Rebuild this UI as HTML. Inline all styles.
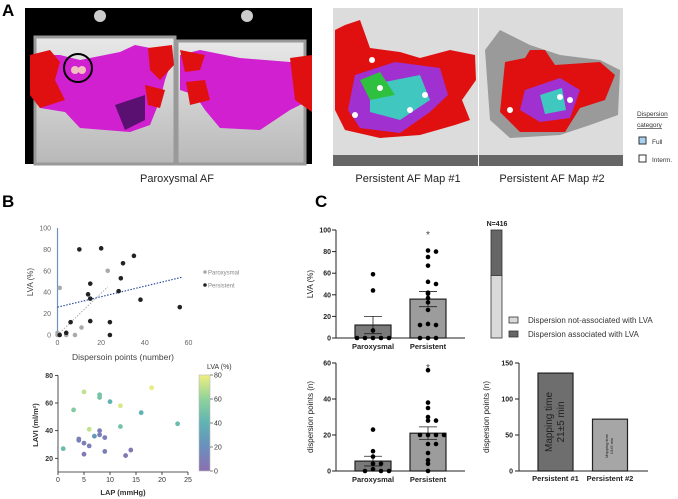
<!DOCTYPE html>
<html><head><meta charset="utf-8"><style>
body{margin:0;background:#fff}
svg{display:block;font-family:"Liberation Sans",sans-serif}
</style></head><body>
<svg id="fig" width="678" height="499" viewBox="0 0 678 499" xmlns="http://www.w3.org/2000/svg">
<defs>
<linearGradient id="xr" x1="0" y1="0" x2="0" y2="1"><stop offset="0" stop-color="#e8e8e8"/><stop offset="1" stop-color="#b8b8b8"/></linearGradient>
<linearGradient id="vir" x1="0" y1="1" x2="0" y2="0"><stop offset="0" stop-color="#8d6fb0"/><stop offset="0.25" stop-color="#6a8fbd"/><stop offset="0.5" stop-color="#5fb3b3"/><stop offset="0.75" stop-color="#8fd39a"/><stop offset="1" stop-color="#f0ee80"/></linearGradient>
</defs>
<text x="2" y="16" font-size="17" font-weight="bold">A</text>
<g>
<rect x="25" y="8" width="287" height="156" fill="#000"/>
<circle cx="100" cy="16" r="6" fill="#ccc"/><circle cx="247" cy="16" r="6" fill="#ccc"/>
<rect x="35" y="37" width="140" height="127" fill="url(#xr)" stroke="#999" stroke-width="3"/>
<rect x="177" y="41" width="128" height="123" fill="url(#xr)" stroke="#999" stroke-width="3"/>
<path d="M30 55 L60 55 L80 60 L120 52 L135 45 L160 50 L172 60 L165 80 L160 100 L150 125 L130 132 L80 128 L65 112 L40 108 L30 95 Z" fill="#d020d0"/>
<path d="M30 55 L50 50 L60 62 L55 80 L65 100 L40 108 L30 95 Z" fill="#e01010"/>
<path d="M148 48 L172 45 L174 65 L160 80 L150 70 Z" fill="#e01010"/>
<path d="M145 85 L165 90 L160 108 L148 105 Z" fill="#e01010"/>
<path d="M115 105 L145 95 L145 120 L125 130 Z" fill="#5a1070"/>
<circle cx="78" cy="68" r="14" fill="none" stroke="#000" stroke-width="2"/>
<circle cx="75" cy="70" r="4" fill="#f0c0c0"/><circle cx="82" cy="70" r="4" fill="#f0c0c0"/>
<path d="M180 55 L200 50 L240 58 L290 62 L310 60 L310 100 L290 110 L260 130 L220 128 L205 110 L195 95 L180 90 Z" fill="#d020d0"/>
<path d="M180 50 L205 55 L200 70 L185 72 Z" fill="#e01010"/>
<path d="M186 82 L205 80 L210 100 L190 105 Z" fill="#e01010"/>
<path d="M290 58 L312 55 L312 112 L295 100 Z" fill="#e01010"/>
</g>
<text x="177" y="182" font-size="11" text-anchor="middle" fill="#222">Paroxysmal AF</text>
<g>
<rect x="333" y="8" width="145" height="158" fill="#dcdcdc"/>
<path d="M335 30 L345 25 L360 20 L370 48 L400 52 L420 58 L450 50 L475 55 L476 80 L462 100 L470 120 L455 125 L420 135 L380 138 L345 130 L335 110 Z" fill="#e01010"/>
<path d="M355 75 L395 62 L440 68 L448 95 L430 112 L400 133 L360 128 L348 110 Z" fill="#a030d0"/>
<path d="M370 85 L420 75 L430 100 L400 120 L370 112 Z" fill="#40c8c0"/>
<path d="M360 80 L380 72 L395 95 L370 100 Z" fill="#30c040"/>
<circle cx="372" cy="60" r="3" fill="#fff"/><circle cx="380" cy="88" r="3" fill="#fff"/><circle cx="410" cy="110" r="3" fill="#fff"/><circle cx="425" cy="95" r="3" fill="#fff"/><circle cx="355" cy="115" r="3" fill="#fff"/>
<rect x="333" y="155" width="145" height="11" fill="#666"/>
</g>
<g>
<rect x="479" y="8" width="144" height="158" fill="#dcdcdc"/>
<path d="M485 50 L500 30 L530 45 L560 55 L600 60 L620 70 L618 115 L590 125 L560 135 L510 138 L490 120 Z" fill="#9a9a9a"/>
<path d="M505 62 L525 58 L530 50 L545 50 L555 65 L600 62 L615 75 L605 100 L580 108 L565 132 L520 132 L500 112 Z" fill="#e01010"/>
<path d="M525 90 L560 78 L580 90 L570 118 L540 122 L520 110 Z" fill="#a030d0"/>
<path d="M540 95 L562 88 L566 110 L545 114 Z" fill="#40c8c0"/>
<circle cx="560" cy="97" r="3" fill="#fff"/><circle cx="570" cy="100" r="3" fill="#fff"/><circle cx="510" cy="110" r="3" fill="#fff"/>
<rect x="479" y="155" width="144" height="11" fill="#666"/>
</g>
<text x="408" y="182" font-size="11" text-anchor="middle" fill="#222">Persistent AF Map #1</text>
<text x="552" y="182" font-size="11" text-anchor="middle" fill="#222">Persistent AF Map #2</text>
<g>
<text x="637" y="116" font-size="6.5" fill="#333" text-decoration="underline">Dispersion</text>
<text x="637" y="127" font-size="6.5" fill="#333" text-decoration="underline">category</text>
<rect x="639" y="137" width="7" height="7" fill="#a8d0f0" stroke="#333"/><text x="652" y="144" font-size="6.5" fill="#333">Full</text>
<rect x="639" y="155" width="7" height="7" fill="#fff" stroke="#333"/><text x="652" y="162" font-size="6.5" fill="#333">Interm.</text>
</g>
<text x="2" y="207" font-size="17" font-weight="bold">B</text>
<text x="315" y="207" font-size="17" font-weight="bold">C</text>
<g id="charts"></g>
</svg>
<script>
const persX=[10,20,35,30,29,15,14,28,15,38,56,15,24,6,4,1,24];
const persY=[80,81,74,67,53,48,38,41,34,33,26,13,12,12,2,0,0];
const paroX=[1,23,11,8,4,0,0];
const paroY=[44,60,7,0,0,2,0];
const bTicksX=[0,20,40,60];
const bTicksY=[0,20,40,60,80,100];
const lap=[5,8,8,18,10,12,3,16,23,12,6,8,8,7,9,4,4,5,6,1,9,14,5,13];
const lavi=[68,66,64,71,61,58,55,53,45,43,41,40,37,36,35,34,33,31,29,27,25,26,23,22];
const lvaC=[70,50,50,78,40,75,55,40,45,50,70,10,10,25,10,10,10,10,10,45,10,5,5,5];
const lapTicks=[0,5,10,15,20,25];
const laviTicks=[20,40,60,80];
const cbTicks=[0,20,40,60,80];
const groups=["Paroxysmal","Persistent"];
const lvaMean=[12,36];
const lvaSem=[8,7];
const lvaParoDots=[59,44,7,0,0,0,0,0];
const lvaPersDots=[81,80,75,67,52,50,42,41,37,33,26,13,12,12,0,0,0];
const dispMean=[5.5,21];
const dispSem=[2.7,3.5];
const dispParoDots=[23,11,8,4,4,1,0,0,0];
const dispPersDots=[56,38,35,30,28,28,20,20,20,20,15,15,10,6,4,0];
const mapLabels=["Persistent #1","Persistent #2"];
const mapValues=[136,72];
const stackVals=[58,42];
const NS="http://www.w3.org/2000/svg";
const root=document.getElementById('charts');
function mk(tag,attrs,parent,txt){const e=document.createElementNS(NS,tag);for(const k in attrs)e.setAttribute(k,attrs[k]);if(txt!==undefined)e.textContent=txt;(parent||root).appendChild(e);return e;}
function viridis(v){const t=Math.max(0,Math.min(1,v/80));const st=[[141,111,176],[106,143,189],[95,179,179],[143,211,154],[240,238,128]];const f=t*4,i=Math.min(3,Math.floor(f)),r=f-i;const c=st[i].map((a,k)=>Math.round(a+(st[i+1][k]-a)*r));return `rgb(${c})`;}

const bx=v=>57.5+v*131/60, by=v=>335-v*1.07;
let g=mk('g',{});


mk('line',{x1:57.5,y1:by(100),x2:57.5,y2:by(0),stroke:'#7090c0','stroke-width':1.2},g);
bTicksY.forEach(t=>{const e=mk('text',{x:51,y:by(t)+2.5,'font-size':7,'text-anchor':'end',fill:'#666'},g,t);});
bTicksX.forEach(t=>{const e=mk('text',{x:bx(t),y:345,'font-size':7,'text-anchor':'middle',fill:'#666'},g,t);});
mk('line',{x1:bx(0),y1:by(26),x2:bx(57),y2:by(54),stroke:'#3050a0','stroke-width':1.2,'stroke-dasharray':'1.5,1.5'},g);
mk('line',{x1:bx(0),y1:by(0),x2:bx(23),y2:by(45),stroke:'#999','stroke-width':0.8,'stroke-dasharray':'1.5,1.5'},g);
paroX.forEach((x,i)=>{const c=mk('circle',{cx:bx(x),cy:by(paroY[i]),r:2.3,fill:'#aaa'},g);});
persX.forEach((x,i)=>{const c=mk('circle',{cx:bx(x),cy:by(persY[i]),r:2.3,fill:'#222'},g);});
let t=mk('text',{x:33,y:282,'font-size':8,fill:'#444',transform:'rotate(-90 33 282)','text-anchor':'middle'},g,'LVA (%)');

t=mk('text',{x:123,y:360,'font-size':8.5,fill:'#444','text-anchor':'middle'},g,'Dispersoin points (number)');

mk('circle',{cx:205,cy:272,r:1.8,fill:'#aaa'},g);mk('text',{x:208,y:274.5,'font-size':6,fill:'#888'},g,'Paroxysmal');
mk('circle',{cx:205,cy:285,r:1.8,fill:'#222'},g);mk('text',{x:208,y:287.5,'font-size':6,fill:'#888'},g,'Persistent');

const lx=v=>58+v*130/25, ly=v=>486-v*1.383;
g=mk('g',{});


mk('line',{x1:58,y1:ly(80),x2:58,y2:472,stroke:'#222','stroke-width':0.8},g);
mk('line',{x1:58,y1:472,x2:lx(25),y2:472,stroke:'#222','stroke-width':0.8},g);
laviTicks.forEach(v=>{mk('line',{x1:55,y1:ly(v),x2:58,y2:ly(v),stroke:'#222','stroke-width':0.8},g);const e=mk('text',{x:53,y:ly(v)+2.5,'font-size':7,'text-anchor':'end','font-weight':'bold',fill:'#333'},g,v);});
lapTicks.forEach(v=>{mk('line',{x1:lx(v),y1:472,x2:lx(v),y2:475,stroke:'#222','stroke-width':0.8},g);const e=mk('text',{x:lx(v),y:482,'font-size':7,'text-anchor':'middle',fill:'#333'},g,v);});
lap.forEach((x,i)=>{const c=mk('circle',{cx:lx(x),cy:ly(lavi[i]),r:2.4,fill:viridis(lvaC[i])},g);});
t=mk('text',{x:38,y:425,'font-size':7.5,'font-weight':'bold',fill:'#333',transform:'rotate(-90 38 425)','text-anchor':'middle'},g,'LAVI (ml/m²)');

t=mk('text',{x:123,y:495,'font-size':7.5,'font-weight':'bold',fill:'#333','text-anchor':'middle'},g,'LAP (mmHg)');

const cb=mk('rect',{x:199,y:375,width:11,height:96,fill:'url(#vir)',stroke:'#bbb','stroke-width':0.6},g);

cbTicks.forEach(v=>{const y=471-v*96/80;mk('line',{x1:210,y1:y,x2:213,y2:y,stroke:'#333','stroke-width':0.6},g);mk('text',{x:214,y:y+2.5,'font-size':7,fill:'#333'},g,v);});
mk('text',{x:207,y:369,'font-size':7,fill:'#333'},g,'LVA (%)');

function barChart(name,y0,yTop,max,step,mean,sem,dots,ylab,xlab){
  const gg=mk('g',{});
  
  
  const sy=v=>y0-(v/max)*(y0-yTop);
  mk('line',{x1:336,y1:yTop,x2:336,y2:y0,stroke:'#222','stroke-width':1},gg);
  mk('line',{x1:336,y1:y0,x2:465,y2:y0,stroke:'#222','stroke-width':1},gg);
  for(let v=0;v<=max;v+=step){mk('line',{x1:332,y1:sy(v),x2:336,y2:sy(v),stroke:'#222'},gg);mk('text',{x:331,y:sy(v)+2.5,'font-size':7,'font-weight':'bold','text-anchor':'end',fill:'#222'},gg,v);}
  const cx=[373,428],fills=['#7a7a7a','#9c9c9c'];
  mean.forEach((m,i)=>{
    const b=mk('rect',{x:cx[i]-18,y:sy(m),width:36,height:y0-sy(m),fill:fills[i],stroke:'#222','stroke-width':1.2},gg);
    
    mk('line',{x1:cx[i],y1:sy(m-sem[i]),x2:cx[i],y2:sy(m+sem[i]),stroke:'#222','stroke-width':0.8},gg);
    mk('line',{x1:cx[i]-9,y1:sy(m+sem[i]),x2:cx[i]+9,y2:sy(m+sem[i]),stroke:'#222','stroke-width':0.8},gg);
    mk('line',{x1:cx[i]-9,y1:sy(m-sem[i]),x2:cx[i]+9,y2:sy(m-sem[i]),stroke:'#222','stroke-width':0.8},gg);
    const lt=mk('text',{x:cx[i],y:y0+11,'font-size':7.5,'font-weight':'bold','text-anchor':'middle',fill:'#222'},gg,xlab[i]);
    
  });
  dots.forEach((arr,i)=>{
    const seen={};
    arr.forEach(v=>{const k=Math.round(v/4);seen[k]=(seen[k]||0)+1;const n=seen[k]-1;const off=(n%2?1:-1)*Math.ceil(n/2)*8;
      const c=mk('circle',{cx:cx[i]+off,cy:sy(v),r:2.3,fill:'#000'},gg);});
  });
  mk('text',{x:428,y:yTop+8,'font-size':10,'text-anchor':'middle',fill:'#444'},gg,'*');
  const yl=mk('text',{x:313,y:(y0+yTop)/2,'font-size':8,'text-anchor':'middle',fill:'#222',transform:`rotate(-90 313 ${(y0+yTop)/2})`},gg,ylab);
  
}
barChart('lva-bar-chart',338,230,100,20,lvaMean,lvaSem,[lvaParoDots,lvaPersDots],'LVA (%)',groups);
barChart('dispersion-bar-chart',471,363,60,20,dispMean,dispSem,[dispParoDots,dispPersDots],'dispersion points  (n)',groups);

g=mk('g',{});


const sH=108,sTop=230;
const h0=stackVals[0]/100*sH;
mk('rect',{x:491,y:sTop+sH-h0,width:11,height:h0,fill:'#d9d9d9',stroke:'#333','stroke-width':0.8},g);
mk('rect',{x:491,y:sTop,width:11,height:sH-h0,fill:'#666',stroke:'#333','stroke-width':0.8},g);
mk('text',{x:497,y:226,'font-size':7,'font-weight':'bold','text-anchor':'middle',fill:'#222'},g,'N=416');
mk('rect',{x:509,y:317,width:9,height:6,fill:'#d9d9d9',stroke:'#333','stroke-width':0.8},g);
mk('text',{x:528,y:323,'font-size':8,fill:'#333'},g,'Dispersion not-associated with LVA');
mk('rect',{x:509,y:331,width:9,height:6,fill:'#666',stroke:'#333','stroke-width':0.8},g);
mk('text',{x:528,y:337,'font-size':8,fill:'#333'},g,'Dispersion associated with LVA');

g=mk('g',{});


const my=v=>471-v*108/150;
mk('line',{x1:519,y1:363,x2:519,y2:471,stroke:'#222'},g);
mk('line',{x1:519,y1:471,x2:648,y2:471,stroke:'#222'},g);
[0,50,100,150].forEach(v=>{mk('line',{x1:515,y1:my(v),x2:519,y2:my(v),stroke:'#222'},g);mk('text',{x:513,y:my(v)+2.5,'font-size':7,'font-weight':'bold','text-anchor':'end',fill:'#222'},g,v);});
const mx=[555.5,610],mf=['#6e6e6e','#a6a6a6'];
mapValues.forEach((v,i)=>{const b=mk('rect',{x:mx[i]-17.5,y:my(v),width:35,height:471-my(v),fill:mf[i],stroke:'#222','stroke-width':1.2},g);
 const l=mk('text',{x:mx[i],y:481,'font-size':7.5,'font-weight':'bold','text-anchor':'middle',fill:'#222'},g,mapLabels[i]);});
mk('text',{x:552,y:422,'font-size':10,'text-anchor':'middle',fill:'#222',transform:'rotate(-90 552 422)'},g,'Mapping time');
mk('text',{x:564,y:422,'font-size':10,'text-anchor':'middle',fill:'#222',transform:'rotate(-90 564 422)'},g,'21±5 min');
mk('text',{x:608,y:446,'font-size':4,'text-anchor':'middle',fill:'#222',transform:'rotate(-90 608 446)'},g,'Mapping time');
mk('text',{x:613,y:446,'font-size':4,'text-anchor':'middle',fill:'#222',transform:'rotate(-90 613 446)'},g,'13±5 min');
mk('text',{x:489,y:417,'font-size':8,'text-anchor':'middle',fill:'#222',transform:'rotate(-90 489 417)'},g,'dispersion points  (n)');
</script>
</body></html>
